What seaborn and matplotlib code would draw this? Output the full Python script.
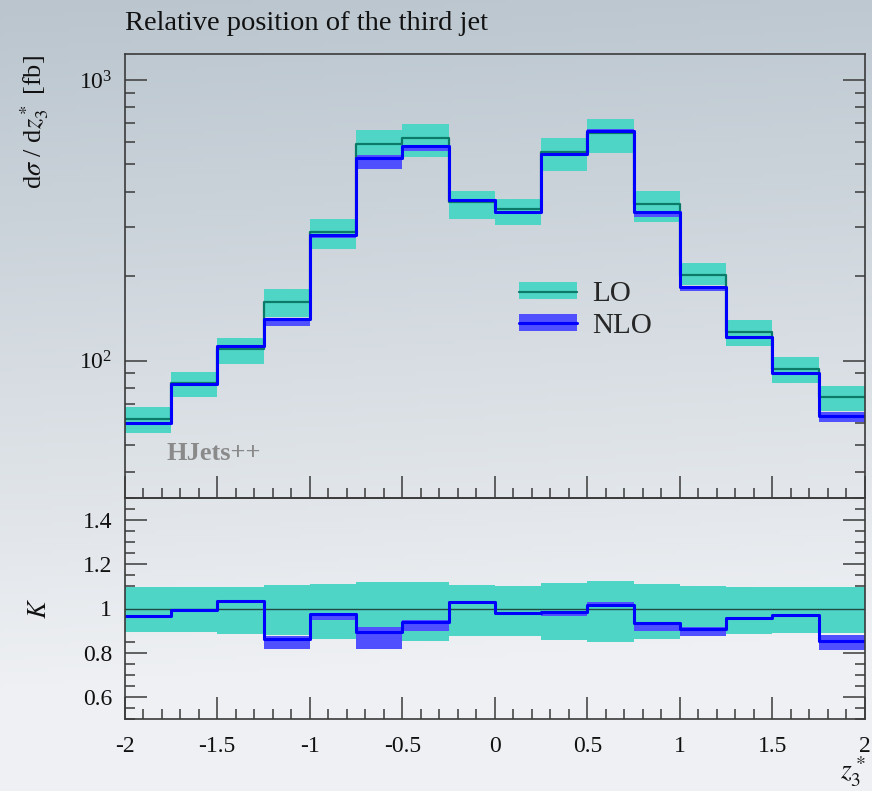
import numpy as np
import pandas as pd
import matplotlib.pyplot as plt
import seaborn as sns
from matplotlib.patches import Patch
from matplotlib.lines import Line2D
from matplotlib.ticker import LogLocator, MultipleLocator, FuncFormatter, NullFormatter

# bins in z3*
edges = np.arange(-2.0, 2.01, 0.25)

# top panel: d sigma / d z3* [fb]
lo      = [62.0, 83.5, 110.3, 162.3, 287.4, 590.0, 621.5, 366.6, 346.2, 555.3, 648.0, 361.5, 202.0, 126.6, 93.4, 74.4]
lo_up   = [68.2, 91.1, 120.4, 179.7, 319.7, 663.5, 697.0, 402.3, 377.6, 622.9, 726.3, 403.2, 223.4, 139.6, 102.8, 81.4]
lo_dn   = [55.4, 74.1, 97.3, 142.8, 249.4, 515.0, 530.3, 319.7, 303.7, 475.2, 548.1, 312.7, 186.1, 112.8, 83.5, 66.4]
nlo     = [60.1, 82.4, 113.1, 140.8, 280.4, 526.0, 584.0, 374.0, 338.5, 546.5, 660.0, 337.6, 183.4, 121.2, 90.6, 63.5]
nlo_up  = [60.5, 82.9, 113.8, 142.3, 281.5, 540.0, 588.0, 376.0, 339.5, 547.0, 667.0, 338.0, 185.0, 121.6, 91.0, 65.5]
nlo_dn  = [59.6, 81.9, 112.5, 132.9, 272.7, 482.6, 557.0, 372.0, 337.5, 535.0, 654.0, 325.0, 176.5, 120.6, 90.1, 60.4]

# bottom panel: K factor
k_lo_up  = [1.097, 1.097, 1.097, 1.106, 1.112, 1.122, 1.119, 1.107, 1.104, 1.117, 1.124, 1.112, 1.104, 1.099, 1.097, 1.097]
k_lo_dn  = [0.892, 0.892, 0.886, 0.880, 0.862, 0.875, 0.851, 0.874, 0.877, 0.856, 0.848, 0.863, 0.880, 0.886, 0.889, 0.889]
k_nlo    = [0.967, 0.993, 1.032, 0.862, 0.975, 0.892, 0.941, 1.029, 0.979, 0.984, 1.017, 0.934, 0.908, 0.957, 0.970, 0.854]
k_nlo_up = [0.969, 0.995, 1.034, 0.877, 0.975, 0.916, 0.946, 1.031, 0.981, 0.984, 1.029, 0.934, 0.916, 0.959, 0.972, 0.880]
k_nlo_dn = [0.965, 0.991, 1.030, 0.819, 0.949, 0.818, 0.896, 1.027, 0.977, 0.964, 1.009, 0.899, 0.874, 0.955, 0.968, 0.812]

C_LO_BAND  = "#4fd5c5"
C_LO_LINE  = "#0b7a68"
C_NLO_BAND = "#5050ff"
C_NLO_LINE = "#0000ff"

sns.set_theme(style="ticks")
plt.rcParams["font.family"] = ["Liberation Serif", "DejaVu Serif"]
plt.rcParams["mathtext.fontset"] = "stix"
plt.rcParams["axes.unicode_minus"] = False

W, H = 872, 791
fig = plt.figure(figsize=(W / 100, H / 100), dpi=100)

# gradient background
bg = fig.add_axes([0, 0, 1, 1], zorder=-10)
yy = np.linspace(0, 1, 200)[:, None]
xx = np.linspace(0, 1, 200)[None, :]
top = np.array([186, 197, 206]) / 255
bot = np.array([238, 240, 243]) / 255
t = np.clip(yy * 1.15 + 0.08 * xx, 0, 1)
img = top[None, None, :] * (1 - t[..., None]) + bot[None, None, :] * t[..., None]
bg.imshow(img, aspect="auto", extent=[0, 1, 0, 1], origin="upper")
bg.set_axis_off()

def px(x0, y0, x1, y1):
    return [x0 / W, 1 - y1 / H, (x1 - x0) / W, (y1 - y0) / H]

ax = fig.add_axes(px(124.7, 54, 865, 498))
axr = fig.add_axes(px(124.7, 498, 865, 719), sharex=ax)

def step_df(vals):
    return pd.DataFrame({"z": edges, "v": list(vals) + [vals[-1]]})

def band(a, up, dn, color):
    a.stairs(up, edges, baseline=dn, fill=True, color=color, lw=0)

def line(a, vals, color, lw):
    sns.lineplot(data=step_df(vals), x="z", y="v", ax=a, color=color, lw=lw,
                 drawstyle="steps-post", estimator=None, sort=False)

band(ax, lo_up, lo_dn, C_LO_BAND)
band(ax, nlo_up, nlo_dn, C_NLO_BAND)
line(ax, lo, C_LO_LINE, 1.6)
line(ax, nlo, C_NLO_LINE, 2.2)

band(axr, k_lo_up, k_lo_dn, C_LO_BAND)
band(axr, k_nlo_up, k_nlo_dn, C_NLO_BAND)
axr.axhline(1.0, color="#1f4a44", lw=1.0)
line(axr, k_nlo, C_NLO_LINE, 2.2)

for a in (ax, axr):
    a.set_facecolor("none")
    a.set_xlim(-2, 2)
    a.set_xlabel("")
    a.set_ylabel("")
    for s in a.spines.values():
        s.set_visible(True)
        s.set_color("#3a3a3a")
        s.set_linewidth(1.2)
    a.tick_params(which="both", direction="in", right=True, top=False,
                  colors="#3a3a3a", labelcolor="#111111", labelsize=17, width=1.1)
    a.tick_params(which="major", length=16)
    a.tick_params(which="minor", length=7.5)
    a.xaxis.set_major_locator(MultipleLocator(0.5))
    a.xaxis.set_minor_locator(MultipleLocator(0.1))

ax.set_yscale("log")
ax.set_ylim(32.4, 1238)
ax.yaxis.set_major_locator(LogLocator(base=10))
ax.yaxis.set_minor_locator(LogLocator(base=10, subs=np.arange(2, 10)))
ax.yaxis.set_minor_formatter(NullFormatter())
ax.tick_params(axis="x", labelbottom=False)
ax.tick_params(axis="y", pad=9)

axr.set_ylim(0.5, 1.5)
axr.yaxis.set_major_locator(MultipleLocator(0.2))
axr.yaxis.set_minor_locator(MultipleLocator(0.05))
axr.yaxis.set_major_formatter(FuncFormatter(lambda v, p: "%g" % round(v, 2)))
axr.xaxis.set_major_formatter(FuncFormatter(lambda v, p: "%g" % v))
axr.tick_params(axis="x", pad=12)
axr.tick_params(axis="y", pad=9)

# legend
h_lo = (Patch(facecolor=C_LO_BAND, lw=0), Line2D([], [], color=C_LO_LINE, lw=1.6))
h_nlo = (Patch(facecolor=C_NLO_BAND, lw=0), Line2D([], [], color=C_NLO_LINE, lw=2.2))
ax.legend([h_lo, h_nlo], ["LO", "NLO"], loc="upper left", bbox_to_anchor=(0.497, 0.548),
          frameon=False, fontsize=21, handlelength=2.0, handleheight=0.5,
          labelspacing=0.2, handletextpad=0.5)

ax.text(0.057, 0.1, "HJets++", transform=ax.transAxes, fontsize=19, fontweight="bold",
        color="#8a8a8a", va="center", ha="left")

fig.text(124.7 / W, 1 - 23 / H, "Relative position of the third jet", fontsize=20.5,
         ha="left", va="center", color="#111111")
fig.text(35 / W, 1 - 55 / H, r"d$\sigma$ / d$z_3^*$ [fb]", rotation=90, fontsize=19,
         ha="center", va="top", color="#111111")
fig.text(40 / W, 1 - 608 / H, "$K$", rotation=90, fontsize=19, ha="center", va="center",
         color="#111111")
fig.text(866 / W, 1 - 772 / H, r"$z_3^*$", fontsize=20, ha="right", va="center",
         color="#111111")

fig.savefig("out.png", dpi=100)
